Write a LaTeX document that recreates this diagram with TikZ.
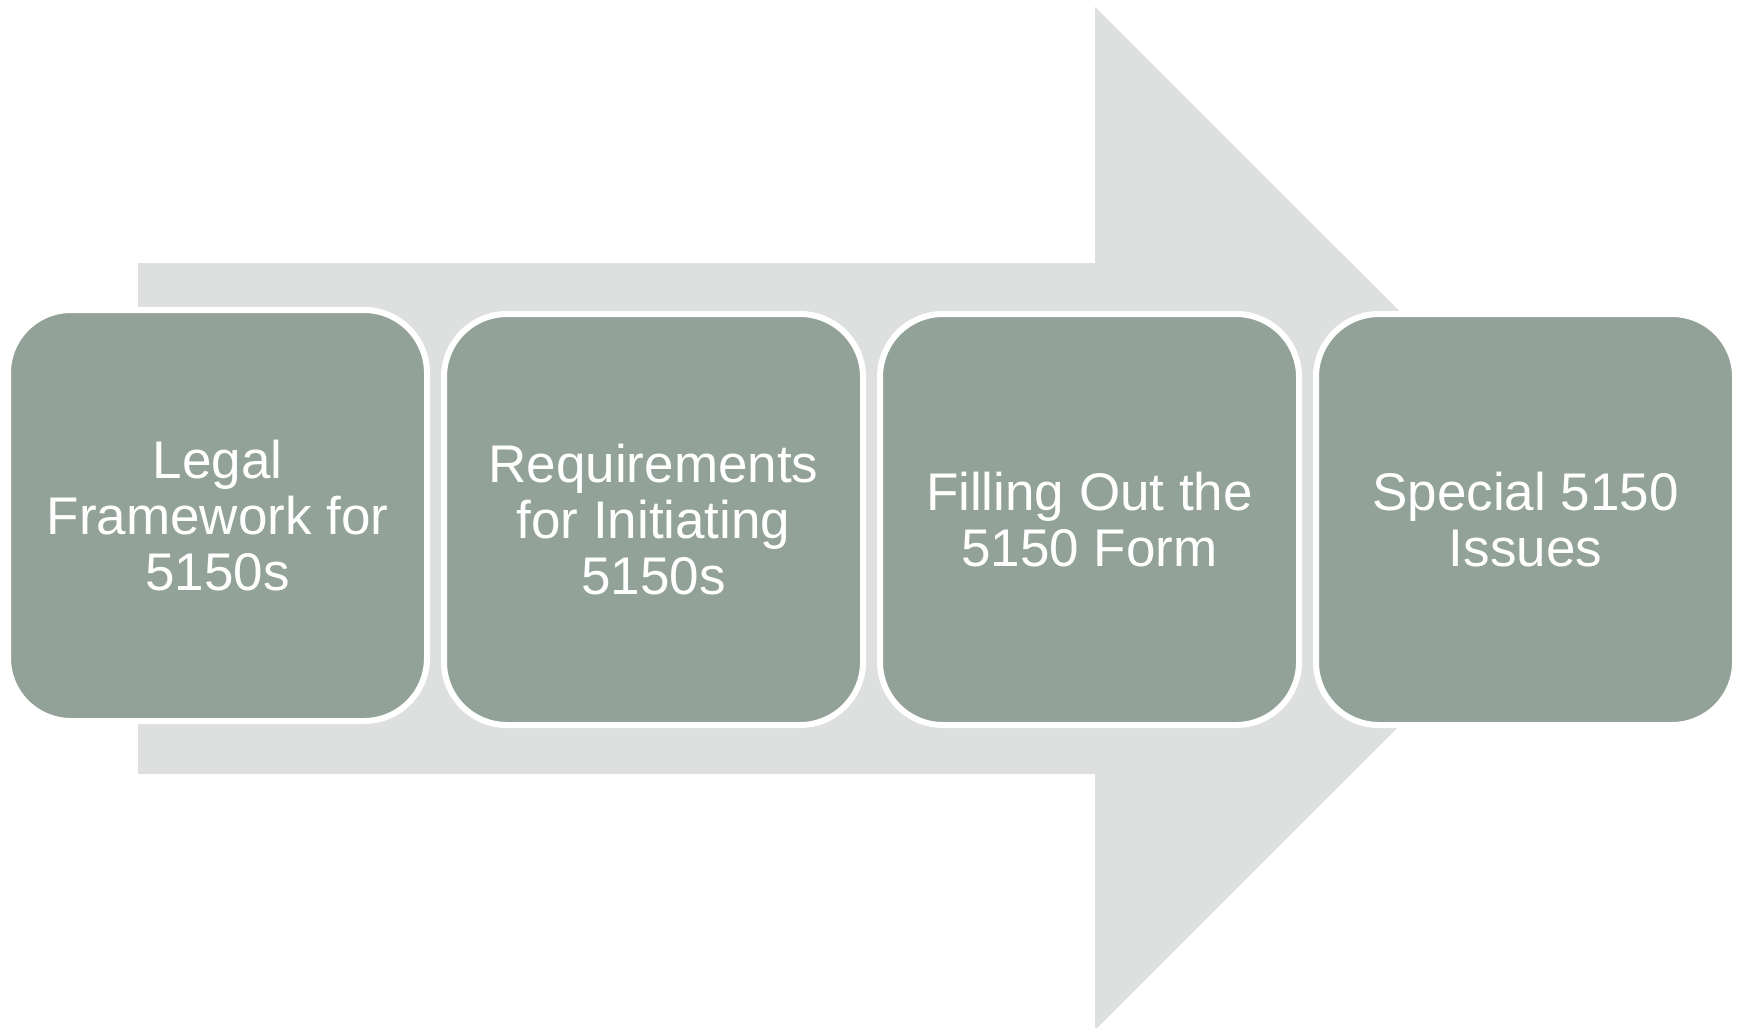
\documentclass[tikz,border=0pt]{standalone}
\usepackage{fontspec}
\setmainfont{Liberation Sans}
\usepackage{xcolor}
\usepackage{tikz}
\usetikzlibrary{positioning}

\definecolor{sage}{HTML}{93A298}
\definecolor{mist}{HTML}{DDE0DF}

\begin{document}
\begin{tikzpicture}[x=1pt,y=-1pt,
  stepbox/.style={draw=white,fill=sage,line width=6pt,rounded corners=63pt,
    minimum width=419pt,minimum height=411pt,outer sep=0pt,align=center,
    text=white,font=\fontsize{53}{56}\selectfont},
  node distance=17pt]
\useasboundingbox (0,0) rectangle (1741,1028);
% big arrow behind the steps
\fill[mist] (138,263) -- (1095,263) -- (1095,7) -- (1607,518.5)
  -- (1095,1030) -- (1095,774) -- (138,774) -- cycle;
\node[stepbox] (legal) at (217.5,515.5) {Legal\\Framework for\\5150s};
\node[stepbox,right=of legal,yshift=-4pt] (require) {Requirements\\for Initiating\\5150s};
\node[stepbox,right=of require] (form) {Filling Out the\\5150 Form};
\node[stepbox,right=of form] (issues) {Special 5150\\Issues};
\end{tikzpicture}
\end{document}
